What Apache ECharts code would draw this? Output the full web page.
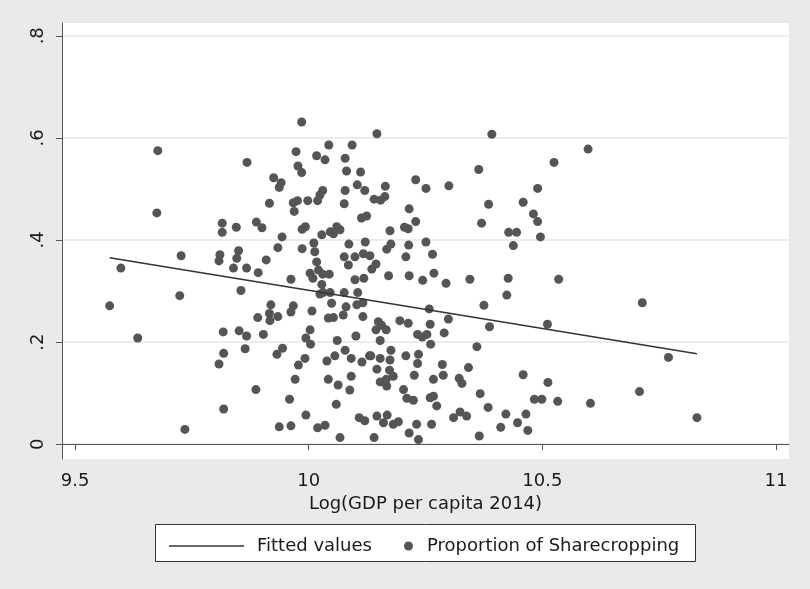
<!DOCTYPE html>
<html>
<head>
<meta charset="utf-8">
<script src="https://cdn.jsdelivr.net/npm/echarts@6/dist/echarts.min.js"></script>
<style>
html,body{margin:0;padding:0;background:#ffffff;}
#chart{width:810px;height:589px;}
</style>
</head>
<body>
<div id="chart"></div>
<script>
// Log(GDP per capita 2014)
const gdp = [
9.677,9.868,9.675,9.815,9.815,9.845,9.598,9.727,9.810,9.808,9.850,9.846,9.839,9.867,9.724,9.855,9.574,9.634,9.817,9.851,
9.867,9.818,9.808,9.864,9.818,9.735,9.985,9.973,10.043,10.093,10.017,10.035,10.078,9.977,9.985,10.081,10.111,9.925,9.941,9.937,
10.030,10.024,10.078,10.104,10.120,9.916,9.967,9.976,9.969,9.998,10.019,10.076,10.113,10.124,9.888,9.900,9.986,9.993,10.028,10.046,
10.060,10.067,10.053,9.943,9.934,9.986,10.011,10.013,10.017,10.086,10.121,9.909,9.892,10.076,10.099,10.117,10.085,10.003,10.021,10.030,
10.044,10.009,9.962,10.099,10.118,10.028,10.031,10.024,10.046,10.076,10.105,9.919,9.916,9.917,9.934,9.967,9.962,9.891,10.007,10.049,
10.080,10.074,10.042,10.053,10.103,10.116,10.116,9.903,10.003,9.994,10.004,10.061,10.101,9.944,9.932,9.992,9.978,10.078,10.091,10.056,
10.039,10.114,10.130,9.971,9.887,10.042,10.063,10.091,10.088,9.959,10.059,9.994,9.937,9.962,10.019,10.035,10.108,10.120,10.067,10.146,
10.229,10.251,10.300,10.364,10.164,10.163,10.140,10.154,10.385,10.215,10.174,10.205,10.213,10.229,10.370,10.176,10.167,10.214,10.251,10.131,
10.144,10.135,10.208,10.265,10.171,10.215,10.244,10.268,10.294,10.345,10.258,10.375,10.299,10.149,10.144,10.156,10.166,10.153,10.195,10.213,
10.260,10.290,10.233,10.243,10.253,10.261,10.387,10.360,10.133,10.153,10.146,10.176,10.174,10.173,10.181,10.166,10.153,10.167,10.208,10.235,
10.233,10.226,10.267,10.286,10.288,10.342,10.322,10.328,10.203,10.210,10.224,10.260,10.267,10.274,10.367,10.384,10.146,10.160,10.168,10.181,
10.192,10.140,10.215,10.231,10.235,10.263,10.310,10.324,10.338,10.365,10.392,10.598,10.525,10.490,10.459,10.481,10.490,10.428,10.445,10.496,
10.438,10.427,10.535,10.424,10.511,10.459,10.512,10.483,10.499,10.533,10.603,10.422,10.465,10.447,10.411,10.469,10.714,10.770,10.708,10.831
];
// Proportion of Sharecropping
const share = [
0.575,0.552,0.453,0.433,0.415,0.425,0.345,0.369,0.371,0.359,0.379,0.364,0.345,0.345,0.291,0.301,0.271,0.208,0.220,0.222,
0.212,0.178,0.157,0.187,0.069,0.029,0.631,0.573,0.586,0.586,0.565,0.557,0.560,0.545,0.532,0.535,0.533,0.522,0.512,0.503,
0.497,0.488,0.497,0.508,0.497,0.472,0.473,0.477,0.456,0.477,0.477,0.471,0.443,0.447,0.435,0.424,0.421,0.426,0.410,0.416,
0.426,0.420,0.412,0.406,0.385,0.383,0.394,0.377,0.357,0.392,0.396,0.361,0.336,0.367,0.367,0.373,0.351,0.335,0.341,0.333,
0.333,0.325,0.323,0.322,0.325,0.313,0.297,0.294,0.297,0.297,0.297,0.273,0.256,0.242,0.250,0.271,0.259,0.248,0.261,0.276,
0.269,0.253,0.247,0.248,0.273,0.277,0.250,0.215,0.224,0.208,0.196,0.203,0.212,0.188,0.176,0.168,0.155,0.184,0.168,0.173,
0.163,0.161,0.173,0.127,0.107,0.127,0.116,0.133,0.106,0.088,0.078,0.057,0.034,0.036,0.032,0.037,0.052,0.046,0.013,0.608,
0.518,0.501,0.506,0.538,0.505,0.485,0.480,0.478,0.470,0.461,0.418,0.425,0.422,0.436,0.433,0.392,0.382,0.390,0.396,0.369,
0.353,0.343,0.367,0.372,0.330,0.330,0.321,0.335,0.315,0.323,0.265,0.272,0.245,0.240,0.224,0.233,0.224,0.203,0.242,0.237,
0.235,0.218,0.215,0.210,0.215,0.196,0.230,0.191,0.173,0.168,0.147,0.184,0.165,0.145,0.133,0.127,0.122,0.114,0.173,0.176,
0.158,0.135,0.127,0.156,0.135,0.150,0.129,0.119,0.107,0.090,0.086,0.091,0.094,0.075,0.099,0.072,0.055,0.042,0.057,0.039,
0.044,0.013,0.022,0.039,0.009,0.039,0.052,0.063,0.055,0.016,0.607,0.578,0.552,0.501,0.474,0.451,0.436,0.415,0.415,0.406,
0.389,0.325,0.323,0.292,0.235,0.136,0.121,0.088,0.088,0.084,0.080,0.059,0.059,0.042,0.033,0.027,0.277,0.170,0.103,0.052
];
// Fitted values (end points of the fitted line)
const fitX = [9.574, 10.831];
const fitY = [0.365, 0.177];

const xTicks = [9.5, 10, 10.5, 11];
const yTicks = [0, 0.2, 0.4, 0.6, 0.8];
const xTickLabels = ['9.5', '10', '10.5', '11'];
const yTickLabels = ['0', '.2', '.4', '.6', '.8'];

const scatterData = gdp.map((x, i) => [x, share[i]]);
const fitData = fitX.map((x, i) => [x, fitY[i]]);

const FONT = 'DejaVu Sans';
const chart = echarts.init(document.getElementById('chart'), null, {renderer: 'canvas'});
chart.setOption({
  animation: false,
  backgroundColor: '#eaeaea',
  textStyle: {fontFamily: FONT},
  grid: {left: 62, right: 21, top: 23, bottom: 130, show: true, backgroundColor: '#ffffff', borderWidth: 0},
  graphic: [{
    type: 'rect', left: 155, top: 524, z: -1, silent: true,
    shape: {width: 540, height: 37},
    style: {fill: '#ffffff', stroke: '#333333', lineWidth: 1}
  }],
  legend: [{
    data: [{name: 'Fitted values', icon: 'path://M0,0L150,0L150,3L0,3Z'}],
    left: 164, top: 532,
    itemWidth: 75, itemHeight: 14,
    itemStyle: {color: '#333333'},
    textStyle: {fontFamily: FONT, fontSize: 18, color: '#1a1a1a', padding: [0, 0, 0, 8]}
  }, {
    data: ['Proportion of Sharecropping'],
    left: 399, top: 532,
    itemWidth: 9, itemHeight: 9,
    icon: 'circle',
    textStyle: {fontFamily: FONT, fontSize: 18, color: '#1a1a1a', padding: [0, 0, 0, 9]}
  }],
  xAxis: {
    type: 'value', min: 9.472, max: 11.028,
    name: 'Log(GDP per capita 2014)', nameLocation: 'middle', nameGap: 33,
    nameTextStyle: {fontFamily: FONT, fontSize: 18, color: '#1a1a1a'},
    axisLine: {show: true, lineStyle: {color: '#555', width: 1}},
    axisTick: {show: true, length: 6, lineStyle: {color: '#555'}, customValues: xTicks},
    axisLabel: {customValues: xTicks, margin: 13, fontFamily: FONT, fontSize: 18, color: '#1a1a1a',
      formatter: v => xTickLabels[xTicks.indexOf(v)] ?? ''},
    splitLine: {show: false}
  },
  yAxis: {
    type: 'value', min: -0.029, max: 0.825,
    axisLine: {show: true, lineStyle: {color: '#555', width: 1}},
    axisTick: {show: true, length: 6, lineStyle: {color: '#555'}, customValues: yTicks},
    axisLabel: {customValues: yTicks, rotate: 90, margin: 15, fontFamily: FONT, fontSize: 18, color: '#1a1a1a',
      formatter: v => yTickLabels[yTicks.indexOf(v)] ?? ''},
    splitLine: {show: true, lineStyle: {color: '#e6e6e6', width: 1.5}}
  },
  series: [{
    name: 'Fitted values', type: 'line', data: fitData,
    symbol: 'none', z: 3,
    lineStyle: {color: '#333333', width: 1.5},
    itemStyle: {color: '#333333'}
  }, {
    name: 'Proportion of Sharecropping', type: 'scatter', data: scatterData,
    symbol: 'circle', symbolSize: 9, z: 2,
    itemStyle: {color: '#555555', opacity: 1}
  }]
});
</script>
</body>
</html>
